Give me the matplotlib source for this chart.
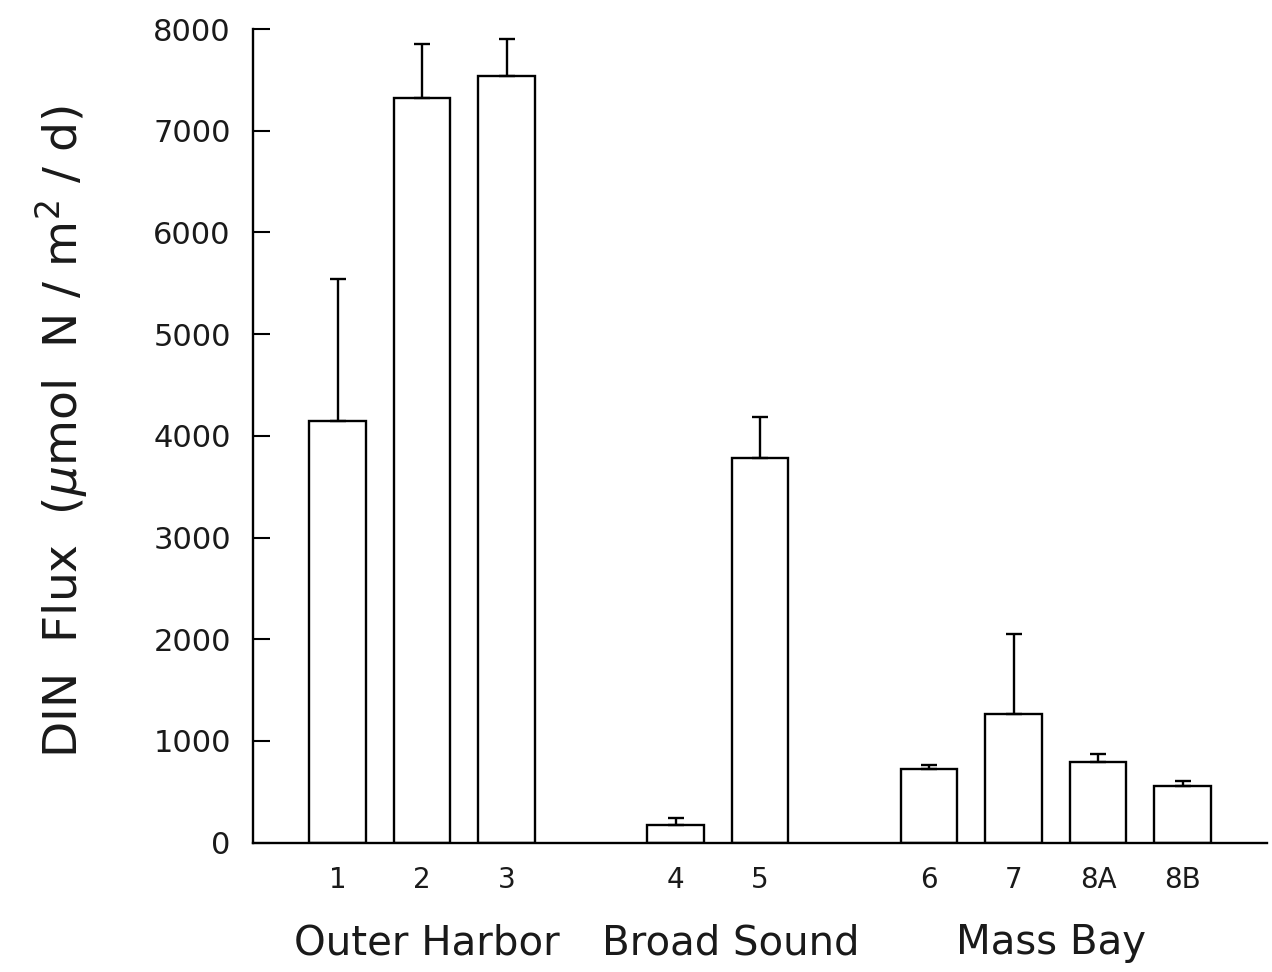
import matplotlib
matplotlib.use("Agg")
import matplotlib.pyplot as plt
import numpy as np

# ---- data ----
groups = ["Outer Harbor", "Broad Sound", "Mass Bay"]
group_stations = [["1", "2", "3"], ["4", "5"], ["6", "7", "8A", "8B"]]
din_flux = [4150, 7320, 7540, 170, 3780, 720, 1260, 790, 560]
din_flux_upper = [5540, 7850, 7900, 240, 4180, 760, 2050, 870, 610]
yticks = [0, 1000, 2000, 3000, 4000, 5000, 6000, 7000, 8000]

# ---- layout: consecutive positions, one empty slot between groups ----
positions, station_labels, group_centers = [], [], []
p = 1
for st in group_stations:
    gp = []
    for s in st:
        positions.append(p)
        station_labels.append(s)
        gp.append(p)
        p += 1
    group_centers.append(np.mean(gp))
    p += 1

means = np.array(din_flux, dtype=float)
err_up = np.array(din_flux_upper, dtype=float) - means

plt.rcParams['font.family'] = ['DejaVu Sans']
fig = plt.figure(figsize=(12.72, 9.72), dpi=100)
ax = fig.add_axes([253/1272, 1-842.6/972, (1267-253)/1272, (842.6-29)/972])

ax.bar(positions, means, width=0.67, color="white", edgecolor="black",
       linewidth=1.7, zorder=2)
ax.errorbar(positions, means, yerr=[np.zeros_like(err_up), err_up], fmt="none",
            ecolor="black", elinewidth=1.7, capsize=5.8, capthick=1.7, zorder=3)

ax.set_xlim(0, 12)
ax.set_ylim(0, 8000)
ax.set_yticks(yticks)
ax.set_yticklabels([str(v) for v in yticks], fontsize=22, color="#1a1a1a")
ax.set_xticks(positions)
ax.set_xticklabels(station_labels, fontsize=20, color="#1a1a1a")
ax.tick_params(axis="y", direction="in", length=12, width=1.5, pad=16)
ax.tick_params(axis="x", length=0, pad=17)
for s in ["top", "right"]:
    ax.spines[s].set_visible(False)
for s in ["left", "bottom"]:
    ax.spines[s].set_linewidth(1.7)

group_offsets = [0.06, 0.15, -0.05]
for g, c, o in zip(groups, group_centers, group_offsets):
    ax.text(c + o, -0.124, g, transform=ax.get_xaxis_transform(), ha="center",
            va="center", fontsize=29, color="#1a1a1a")

fig.text(62/1272, 1-432/972, r"DIN  Flux  ($\mu$mol  N / m$^{2}$ / d)", rotation=90,
         ha="center", va="center", fontsize=34, color="#1a1a1a")

fig.savefig("out.png", dpi=100)
